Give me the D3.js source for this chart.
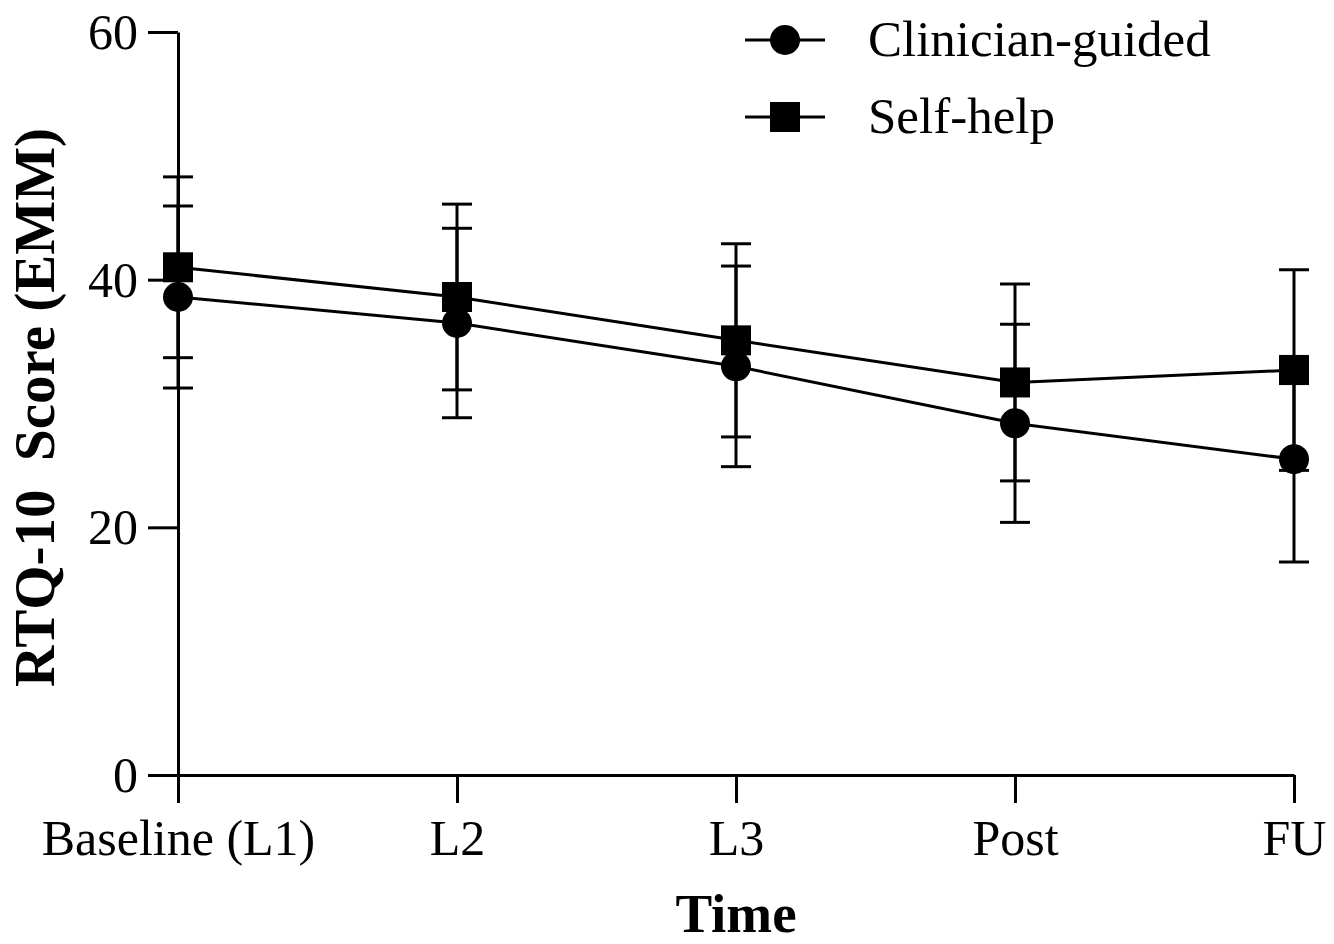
<!DOCTYPE html>
<html>
<head>
<meta charset="utf-8">
<script src="https://cdn.jsdelivr.net/npm/d3@7"></script>
<style>
  html, body { margin: 0; padding: 0; background: #fff; }
  text { font-family: "Liberation Serif", "Times New Roman", serif; fill: #000; }
</style>
</head>
<body>
<div id="chart"></div>
<script>
// Data
const timePoints = ["Baseline (L1)", "L2", "L3", "Post", "FU"];
const clinicianMean = [38.6, 36.5, 33.0, 28.4, 25.5];
const clinicianErr = [7.35, 7.65, 8.1, 8.0, 8.3];
const selfHelpMean = [41.0, 38.6, 35.1, 31.7, 32.7];
const selfHelpErr = [7.3, 7.5, 7.8, 7.95, 8.1];
const yTicks = [0, 20, 40, 60];

function draw() {
  // Dimensions
  let dimensions = {
    width: 1334,
    height: 944,
    margin: { top: 32, bottom: 169, left: 178, right: 40 },
  };
  dimensions.containerWidth =
    dimensions.width - dimensions.margin.left - dimensions.margin.right;
  dimensions.containerHeight =
    dimensions.height - dimensions.margin.top - dimensions.margin.bottom;

  const svg = d3
    .select("#chart")
    .append("svg")
    .attr("width", dimensions.width)
    .attr("height", dimensions.height);

  const container = svg
    .append("g")
    .attr("transform", `translate(${dimensions.margin.left}, ${dimensions.margin.top})`);

  // Scales
  const xScale = d3
    .scalePoint()
    .domain(timePoints)
    .range([0, dimensions.containerWidth])
    .padding(0);
  const yScale = d3
    .scaleLinear()
    .domain([0, 60])
    .range([dimensions.containerHeight, 0]);

  // Axes
  const yAxis = d3.axisLeft(yScale)
    .tickValues(yTicks)
    .tickSize(30)
    .tickSizeOuter(0)
    .tickPadding(10);
  const yAxisGroup = container.append("g").call(yAxis);
  yAxisGroup.selectAll("path, line").attr("stroke", "#000").attr("stroke-width", 3);
  yAxisGroup.selectAll("text").style("font-size", "50px").attr("dy", "0.33em");

  const xAxis = d3.axisBottom(xScale).tickSize(28).tickSizeOuter(0).tickPadding(16);
  const xAxisGroup = container
    .append("g")
    .attr("transform", `translate(0, ${dimensions.containerHeight})`)
    .call(xAxis);
  xAxisGroup.selectAll("path, line").attr("stroke", "#000").attr("stroke-width", 3);
  xAxisGroup.selectAll("text").style("font-size", "50px").attr("dy", "0.71em");

  // Axis titles
  svg.append("text")
    .attr("x", dimensions.margin.left + dimensions.containerWidth / 2)
    .attr("y", 932)
    .attr("text-anchor", "middle")
    .style("font-size", "55px")
    .style("font-weight", "bold")
    .text("Time");

  svg.append("text")
    .attr("transform", `translate(54, ${dimensions.margin.top + dimensions.containerHeight / 2 + 4}) rotate(-90)`)
    .attr("text-anchor", "middle")
    .style("font-size", "57px")
    .style("font-weight", "bold")
    .style("white-space", "pre")
    .text("RTQ-10  Score (EMM)");

  const series = [
    { name: "Clinician-guided", mean: clinicianMean, err: clinicianErr, shape: "circle" },
    { name: "Self-help", mean: selfHelpMean, err: selfHelpErr, shape: "square" },
  ];

  const capHalf = 15;
  const line = d3.line()
    .x((d, i) => xScale(timePoints[i]))
    .y((d) => yScale(d));

  // Error bars
  series.forEach((s) => {
    const g = container.append("g");
    s.mean.forEach((m, i) => {
      const x = xScale(timePoints[i]);
      const y1 = yScale(m + s.err[i]);
      const y0 = yScale(m - s.err[i]);
      g.append("line").attr("x1", x).attr("x2", x).attr("y1", y1).attr("y2", y0);
      g.append("line").attr("x1", x - capHalf).attr("x2", x + capHalf).attr("y1", y1).attr("y2", y1);
      g.append("line").attr("x1", x - capHalf).attr("x2", x + capHalf).attr("y1", y0).attr("y2", y0);
    });
    g.selectAll("line").attr("stroke", "#000").attr("stroke-width", 3);
  });

  // Lines
  series.forEach((s) => {
    container.append("path")
      .datum(s.mean)
      .attr("fill", "none")
      .attr("stroke", "#000")
      .attr("stroke-width", 3)
      .attr("d", line);
  });

  // Markers
  function drawMarker(g, shape, x, y) {
    if (shape === "circle") {
      g.append("circle").attr("cx", x).attr("cy", y).attr("r", 15).attr("fill", "#000");
    } else {
      g.append("rect").attr("x", x - 15).attr("y", y - 15).attr("width", 30).attr("height", 30).attr("fill", "#000");
    }
  }
  series.forEach((s) => {
    const g = container.append("g");
    s.mean.forEach((m, i) => drawMarker(g, s.shape, xScale(timePoints[i]), yScale(m)));
  });

  // Legend
  const legend = svg.append("g");
  series.forEach((s, i) => {
    const cy = 40 + i * 77;
    legend.append("line")
      .attr("x1", 745).attr("x2", 825).attr("y1", cy).attr("y2", cy)
      .attr("stroke", "#000").attr("stroke-width", 3);
    drawMarker(legend, s.shape, 785, cy);
    legend.append("text")
      .attr("x", 868)
      .attr("y", cy + 16)
      .style("font-size", "51px")
      .text(s.name);
  });
}

draw();
</script>
</body>
</html>
